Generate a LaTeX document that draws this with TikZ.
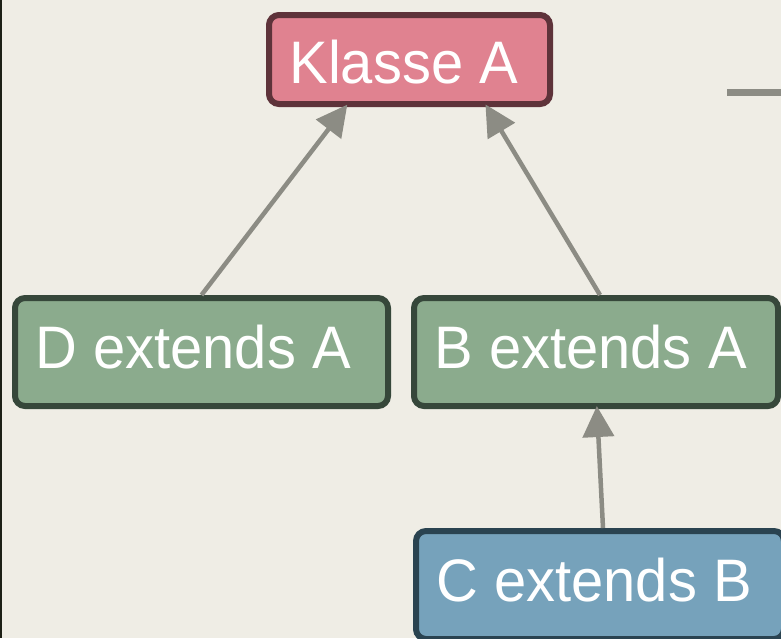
\documentclass[tikz,border=0pt]{standalone}
\usepackage{fontspec}
\usetikzlibrary{arrows.meta}
\newfontfamily\classfont[FakeStretch=0.965]{Liberation Sans}
\definecolor{paper}{HTML}{EFEDE5}
\definecolor{edgegray}{HTML}{8C8C84}
\definecolor{rootfill}{HTML}{E08290}
\definecolor{rootline}{HTML}{5E333A}
\definecolor{subfill}{HTML}{8BAB8D}
\definecolor{subline}{HTML}{36473A}
\definecolor{leaffill}{HTML}{76A2BB}
\definecolor{leafline}{HTML}{2A4350}
\definecolor{frameline}{HTML}{1D2016}
\tikzset{
  cls/.style={rectangle, rounded corners=10pt, line width=6pt, text=white,
    font={\classfont\fontsize{60}{60}\selectfont},
    inner xsep=20.5pt, inner ysep=0pt, text height=43pt, text depth=10pt},
  rootcls/.style={cls, fill=rootfill, draw=rootline, text height=47pt, text depth=0pt},
  subcls/.style={cls, fill=subfill, draw=subline},
  leafcls/.style={cls, fill=leaffill, draw=leafline},
  inherit/.style={draw=edgegray, line width=4.5pt, shorten >=-3pt,
    -{Triangle[length=31pt,width=31pt]}},
}
\newcommand{\clsname}[2]{\makebox[#1][l]{#2}}
\begin{document}
\begin{tikzpicture}[x=1pt, y=-1pt]
  \useasboundingbox (0,0) rectangle (781,638);
  \clip (0,0) rectangle (781,638);
  \fill[paper] (0,0) rectangle (781,638);
  \fill[frameline] (0,0) rectangle (2.3,638);

  % class boxes
  \node[rootcls, minimum width=281pt, minimum height=89pt] (A) at (409.5,59.5)
    {\clsname{240pt}{Klasse A}};
  \node[subcls, minimum width=373pt, minimum height=108pt] (D) at (201.5,352)
    {\clsname{332pt}{D extends A}};
  \node[subcls, minimum width=364pt, minimum height=108pt] (B) at (596,352)
    {\clsname{323pt}{B extends A}};
  \node[leafcls, minimum width=368pt, minimum height=108pt] (C) at (600,585)
    {\clsname{327pt}{C extends B}};

  % inheritance arrows
  \draw[inherit] (D.north) -- ([xshift=-64pt]A.south);
  \draw[inherit] ([xshift=4pt]B.north) -- ([xshift=77.5pt]A.south);
  \draw[inherit] ([xshift=3pt]C.north) -- ([xshift=1pt]B.south);

  % stub of a connector leaving to the right
  \coordinate (s1) at (727,92.5);
  \coordinate (s2) at (790,92.5);
  \draw[edgegray, line width=7pt] (s1) -- (s2);
\end{tikzpicture}
\end{document}
